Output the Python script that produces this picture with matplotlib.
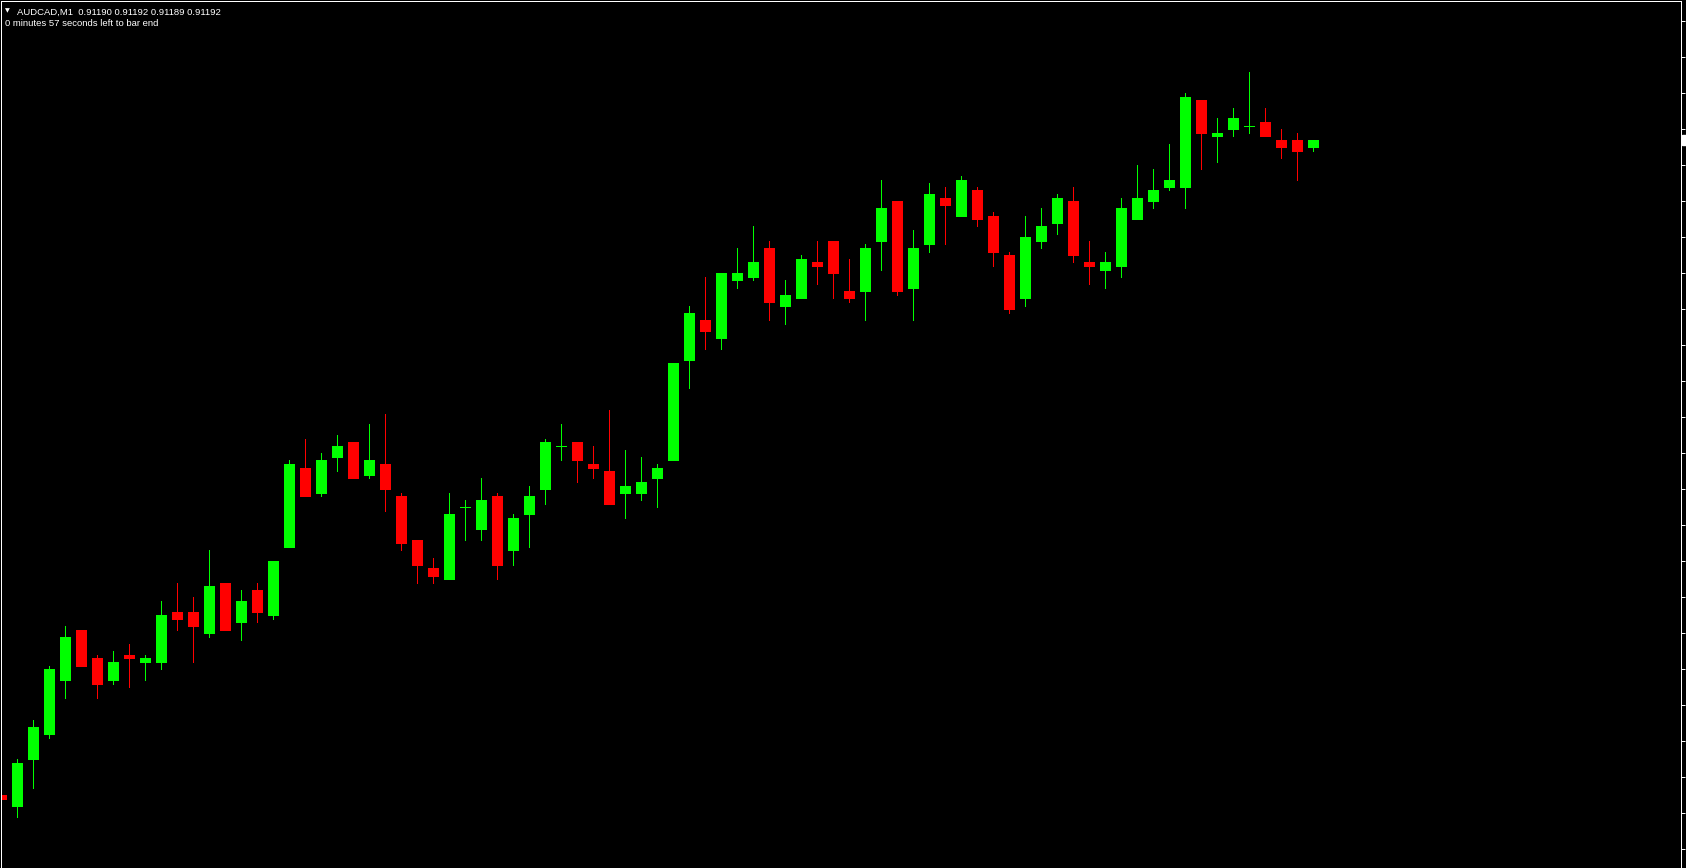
import matplotlib
matplotlib.use("Agg")
import matplotlib.pyplot as plt
import matplotlib.transforms as mtransforms
from matplotlib.patches import Rectangle
import numpy as np

# AUDCAD M1, last 83 bars (prices)
SYMBOL = "AUDCAD,M1"
TIMER_TEXT = "0 minutes 57 seconds left to bar end"

opens = [0.91010, 0.91007, 0.91020, 0.91027, 0.91042, 0.91056, 0.91048, 0.91042, 0.91049, 0.91047,
         0.91047, 0.91061, 0.91061, 0.91055, 0.91069, 0.91058, 0.91067, 0.91060, 0.91079, 0.91101,
         0.91094, 0.91104, 0.91108, 0.91099, 0.91102, 0.91093, 0.91081, 0.91073, 0.91070, 0.91090,
         0.91084, 0.91093, 0.91078, 0.91088, 0.91095, 0.91107, 0.91108, 0.91102, 0.91100, 0.91094,
         0.91094, 0.91098, 0.91103, 0.91131, 0.91142, 0.91137, 0.91153, 0.91154, 0.91162, 0.91146,
         0.91148, 0.91158, 0.91164, 0.91150, 0.91150, 0.91164, 0.91175, 0.91151, 0.91163, 0.91176,
         0.91171, 0.91178, 0.91171, 0.91160, 0.91148, 0.91164, 0.91169, 0.91175, 0.91158, 0.91156,
         0.91157, 0.91170, 0.91175, 0.91179, 0.91179, 0.91203, 0.91193, 0.91195, 0.91196, 0.91197,
         0.91192, 0.91192, 0.91190]
highs = [0.91013, 0.91020, 0.91031, 0.91046, 0.91057, 0.91056, 0.91049, 0.91050, 0.91052, 0.91049,
         0.91064, 0.91069, 0.91065, 0.91078, 0.91069, 0.91067, 0.91069, 0.91075, 0.91103, 0.91109,
         0.91105, 0.91110, 0.91108, 0.91113, 0.91116, 0.91094, 0.91081, 0.91076, 0.91094, 0.91092,
         0.91098, 0.91094, 0.91088, 0.91096, 0.91109, 0.91113, 0.91108, 0.91107, 0.91117, 0.91106,
         0.91104, 0.91102, 0.91130, 0.91146, 0.91154, 0.91155, 0.91162, 0.91168, 0.91164, 0.91153,
         0.91160, 0.91164, 0.91164, 0.91159, 0.91163, 0.91181, 0.91175, 0.91167, 0.91180, 0.91179,
         0.91182, 0.91179, 0.91172, 0.91161, 0.91171, 0.91173, 0.91177, 0.91179, 0.91164, 0.91161,
         0.91176, 0.91185, 0.91184, 0.91191, 0.91205, 0.91203, 0.91198, 0.91201, 0.91211, 0.91201,
         0.91195, 0.91194, 0.91192]
lows = [0.91006, 0.91004, 0.91012, 0.91026, 0.91037, 0.91046, 0.91037, 0.91041, 0.91040, 0.91042,
        0.91045, 0.91056, 0.91047, 0.91054, 0.91056, 0.91053, 0.91058, 0.91059, 0.91079, 0.91093,
        0.91093, 0.91100, 0.91098, 0.91098, 0.91089, 0.91078, 0.91069, 0.91069, 0.91070, 0.91081,
        0.91081, 0.91070, 0.91074, 0.91079, 0.91091, 0.91103, 0.91097, 0.91098, 0.91091, 0.91087,
        0.91092, 0.91090, 0.91103, 0.91123, 0.91134, 0.91134, 0.91151, 0.91153, 0.91142, 0.91141,
        0.91148, 0.91152, 0.91148, 0.91147, 0.91142, 0.91156, 0.91149, 0.91142, 0.91161, 0.91163,
        0.91171, 0.91168, 0.91157, 0.91144, 0.91146, 0.91162, 0.91166, 0.91158, 0.91152, 0.91151,
        0.91154, 0.91170, 0.91173, 0.91178, 0.91173, 0.91184, 0.91186, 0.91193, 0.91194, 0.91193,
        0.91187, 0.91181, 0.91189]
closes = [0.91009, 0.91019, 0.91029, 0.91045, 0.91054, 0.91046, 0.91041, 0.91047, 0.91048, 0.91048,
          0.91060, 0.91059, 0.91057, 0.91068, 0.91056, 0.91064, 0.91061, 0.91075, 0.91102, 0.91093,
          0.91103, 0.91107, 0.91098, 0.91103, 0.91095, 0.91080, 0.91074, 0.91071, 0.91088, 0.91090,
          0.91092, 0.91074, 0.91087, 0.91093, 0.91108, 0.91107, 0.91103, 0.91101, 0.91091, 0.91096,
          0.91097, 0.91101, 0.91130, 0.91144, 0.91139, 0.91155, 0.91155, 0.91158, 0.91147, 0.91149,
          0.91159, 0.91157, 0.91155, 0.91148, 0.91162, 0.91173, 0.91150, 0.91162, 0.91177, 0.91174,
          0.91181, 0.91170, 0.91161, 0.91145, 0.91165, 0.91168, 0.91176, 0.91160, 0.91157, 0.91158,
          0.91173, 0.91176, 0.91178, 0.91181, 0.91204, 0.91194, 0.91194, 0.91198, 0.91196, 0.91193,
          0.91190, 0.91189, 0.91192]

# price scale marks on the right edge
price_ticks = np.round(np.arange(0.90995, 0.91226, 0.0001), 5)
price_range = (0.909898, 0.912306)

BULL = "#00ff00"
BEAR = "#ff0000"
W, H = 1686, 868
PX = 72 / 100  # one pixel in points


def main():
    o = np.array(opens)
    h = np.array(highs)
    l = np.array(lows)
    c = np.array(closes)
    x = np.arange(len(o))
    colors = np.where(c >= o, BULL, BEAR)

    fig = plt.figure(figsize=(W / 100, H / 100), dpi=100, facecolor="black")
    ax = fig.add_axes([1 / W, 0, 1680 / W, 867 / H], facecolor="black")

    ax.vlines(x, l, h, colors=colors, linewidth=PX, antialiased=False)
    ax.bar(x, c - o, bottom=o, width=10 / 16, color=colors, edgecolor=colors,
           linewidth=PX, antialiased=False)

    ax.set_xlim(-0.031, 104.969)
    ax.set_ylim(*price_range)

    for side in ("top", "left", "right"):
        ax.spines[side].set_color("white")
        ax.spines[side].set_linewidth(PX)
    ax.spines["bottom"].set_visible(False)
    ax.set_xticks([])
    ax.yaxis.tick_right()
    ax.set_yticks(price_ticks)
    ax.set_yticklabels([])
    ax.tick_params(axis="y", direction="out", length=3, width=PX, color="white")

    # bid price label, cut by the window edge
    trans = mtransforms.blended_transform_factory(ax.transAxes, ax.transData)
    ax.add_patch(Rectangle((1.0006, c[-1] - 0.0000139), 4 / 1680, 0.0000278,
                           transform=trans, clip_on=False, color="white"))

    font = ["Liberation Sans", "DejaVu Sans"]
    fig.text(4.5 / W, 1 - 12.5 / H, "\u25bc", color="white", fontsize=4.5, family=["DejaVu Sans"])
    header = f"{SYMBOL}  {o[-1]:.5f} {h[-1]:.5f} {l[-1]:.5f} {c[-1]:.5f}"
    fig.text(17 / W, 1 - 14.5 / H, header, color="white", fontsize=6.8, family=font)
    fig.text(5 / W, 1 - 26.5 / H, TIMER_TEXT, color="white", fontsize=6.8, family=font)

    fig.savefig("out.png", dpi=100, facecolor="black")


if __name__ == "__main__":
    main()
